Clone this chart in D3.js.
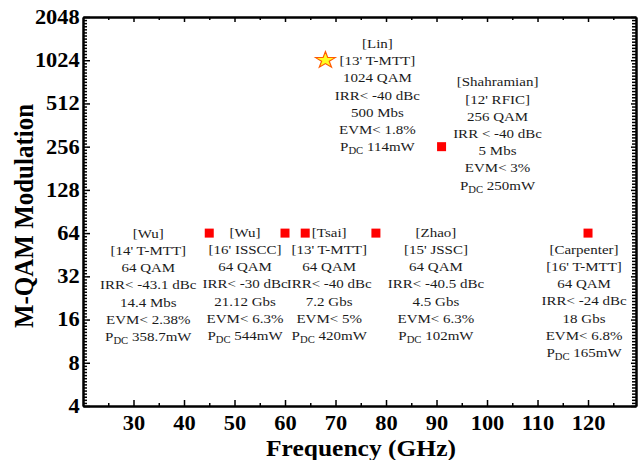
<!DOCTYPE html>
<html>
<head>
<meta charset="utf-8">
<script src="https://cdn.jsdelivr.net/npm/d3@7"></script>
<style>
  body { margin: 0; background: #fff; }
  text { font-family: 'Liberation Serif', 'Times New Roman', serif; }
</style>
</head>
<body>
<div class="canvas"></div>
<script>
// values
const freqTicks = [30, 40, 50, 60, 70, 80, 90, 100, 110, 120];
const qamTicks = [4, 8, 16, 32, 64, 128, 256, 512, 1024, 2048];

const authors = ['Lin', 'Shahramian', 'Wu', 'Wu', 'Tsai', 'Zhao', 'Carpenter'];
const venues = ["13' T-MTT", "12' RFIC", "14' T-MTT", "16' ISSCC", "13' T-MTT", "15' JSSC", "16' T-MTT"];
const freqs = [68, 91, 45, 60, 64, 78, 120];
const qams = [1024, 256, 64, 64, 64, 64, 64];
const irrs = ['IRR< -40 dBc', 'IRR < -40 dBc', 'IRR< -43.1 dBc', 'IRR< -30 dBc', 'IRR< -40 dBc', 'IRR< -40.5 dBc', 'IRR< -24 dBc'];
const rates = ['500 Mbs', '5 Mbs', '14.4 Mbs', '21.12 Gbs', '7.2 Gbs', '4.5 Gbs', '18 Gbs'];
const evms = ['EVM< 1.8%', 'EVM< 3%', 'EVM< 2.38%', 'EVM< 6.3%', 'EVM< 5%', 'EVM< 6.3%', 'EVM< 6.8%'];
const pdcs = ['114mW', '250mW', '358.7mW', '544mW', '420mW', '102mW', '165mW'];
const shapes = ['star', 'square', 'square', 'square', 'square', 'square', 'square'];

// where each text block sits relative to its marker (px)
const noteOffsets = [[52, -17], [56, -65], [-61, 0], [-40, -1], [24, -1], [60, -1], [-4, 16]];

const W = 639, H = 460;
const SX = 1.12;   // the original picture is a bit wider than tall
const lineH = 17.2;

const svg = d3.select('.canvas')
    .append('svg')
    .attr('width', W)
    .attr('height', H);

const x = d3.scaleLinear().domain([20, 129.5]).range([83, 636]);
const y = d3.scaleLog().base(2).domain([4, 2048]).range([406, 17]);

// minor ticks
const xMinor = d3.range(25, 130, 10);
const yMinor = [];
for (let k = 2; k < 11; k++) {
    for (let i = 1; i < 14; i++) yMinor.push(Math.pow(2, k + i / 14));
}

const styleAxis = g => {
    g.select('.domain').attr('stroke', '#000').attr('stroke-width', 2);
    g.selectAll('.tick line').attr('stroke', '#000').attr('stroke-width', 1.5);
    g.selectAll('.tick text')
        .attr('fill', '#000')
        .attr('font-size', 20)
        .attr('font-weight', 'bold')
        .attr('font-family', "'Liberation Serif', 'Times New Roman', serif")
        .attr('transform', `scale(${SX},1)`);
};
const noLabels = g => g.selectAll('.tick text').remove();

// minor ticks first
svg.append('g').attr('transform', 'translate(0,406)')
    .call(d3.axisBottom(x).tickValues(xMinor).tickSizeInner(-3).tickSizeOuter(0))
    .call(styleAxis).call(noLabels);
svg.append('g').attr('transform', 'translate(0,17)')
    .call(d3.axisTop(x).tickValues(xMinor).tickSizeInner(-3).tickSizeOuter(0))
    .call(styleAxis).call(noLabels);
svg.append('g').attr('transform', 'translate(83,0)')
    .call(d3.axisLeft(y).tickValues(yMinor).tickSizeInner(-4).tickSizeOuter(0))
    .call(styleAxis).call(noLabels);
svg.append('g').attr('transform', 'translate(636,0)')
    .call(d3.axisRight(y).tickValues(yMinor).tickSizeInner(-4).tickSizeOuter(0))
    .call(styleAxis).call(noLabels);

// major ticks
svg.append('g').attr('transform', 'translate(0,406)')
    .call(d3.axisBottom(x).tickValues(freqTicks).tickSizeInner(-6).tickSizeOuter(0).tickPadding(10).tickFormat(d3.format('d')))
    .call(styleAxis);
svg.append('g').attr('transform', 'translate(0,17)')
    .call(d3.axisTop(x).tickValues(freqTicks).tickSizeInner(-5).tickSizeOuter(0))
    .call(styleAxis).call(noLabels);
svg.append('g').attr('transform', 'translate(83,0)')
    .call(d3.axisLeft(y).tickValues(qamTicks).tickSizeInner(-7).tickSizeOuter(0).tickPadding(3).tickFormat(d3.format('d')))
    .call(styleAxis);
svg.append('g').attr('transform', 'translate(636,0)')
    .call(d3.axisRight(y).tickValues(qamTicks).tickSizeInner(-5).tickSizeOuter(0))
    .call(styleAxis).call(noLabels);

// fit a title to the length it has in the picture
const fitLength = (t, target, base) => {
    const len = t.node().getComputedTextLength();
    if (len > 0) t.attr('font-size', base * target / len);
};

// axis titles
const xTitle = svg.append('text')
    .attr('transform', `translate(361,456) scale(${SX},1)`)
    .attr('text-anchor', 'middle')
    .attr('font-size', 23)
    .attr('font-weight', 'bold')
    .text('Frequency (GHz)');
fitLength(xTitle, 190 / SX, 23);

const yTitle = svg.append('text')
    .attr('transform', `translate(23,216) scale(${SX},1) rotate(-90)`)
    .attr('text-anchor', 'middle')
    .attr('dy', '0.35em')
    .attr('font-size', 24)
    .attr('font-weight', 'bold')
    .text('M-QAM Modulation');
fitLength(yTitle, 224, 24);

// markers
const pts = svg.append('g');
freqs.forEach((f, i) => {
    const px = x(f), py = y(qams[i]);
    if (shapes[i] === 'star') {
        pts.append('path')
            .attr('d', d3.symbol(d3.symbolStar, 85)())
            .attr('transform', `translate(${px},${py}) scale(1.2,1)`)
            .attr('fill', '#ffff22')
            .attr('stroke', '#ff5a00')
            .attr('stroke-width', 1);
    } else {
        pts.append('rect')
            .attr('x', px - 4.5)
            .attr('y', py - 4.5)
            .attr('width', 9)
            .attr('height', 9)
            .attr('fill', '#ff0000');
    }
});

// text blocks
const notes = svg.append('g').attr('fill', '#1a1a1a').attr('font-size', 13.4);
freqs.forEach((f, i) => {
    const cx = x(f) + noteOffsets[i][0];
    const cy = y(qams[i]) + noteOffsets[i][1];
    const lines = [`[${authors[i]}]`, `[${venues[i]}]`, `${qams[i]} QAM`, irrs[i], rates[i], evms[i]];
    lines.forEach((s, j) => {
        notes.append('text')
            .attr('transform', `translate(${cx},${cy + j * lineH}) scale(${SX},1)`)
            .attr('text-anchor', 'middle')
            .attr('dy', '0.35em')
            .text(s);
    });
    const t = notes.append('text')
        .attr('transform', `translate(${cx},${cy + lines.length * lineH}) scale(${SX},1)`)
        .attr('text-anchor', 'middle')
        .attr('dy', '0.35em');
    t.append('tspan').text('P');
    t.append('tspan').attr('font-size', 9.5).attr('dy', 3).text('DC');
    t.append('tspan').attr('dy', -3).text(' ' + pdcs[i]);
});
</script>
</body>
</html>
